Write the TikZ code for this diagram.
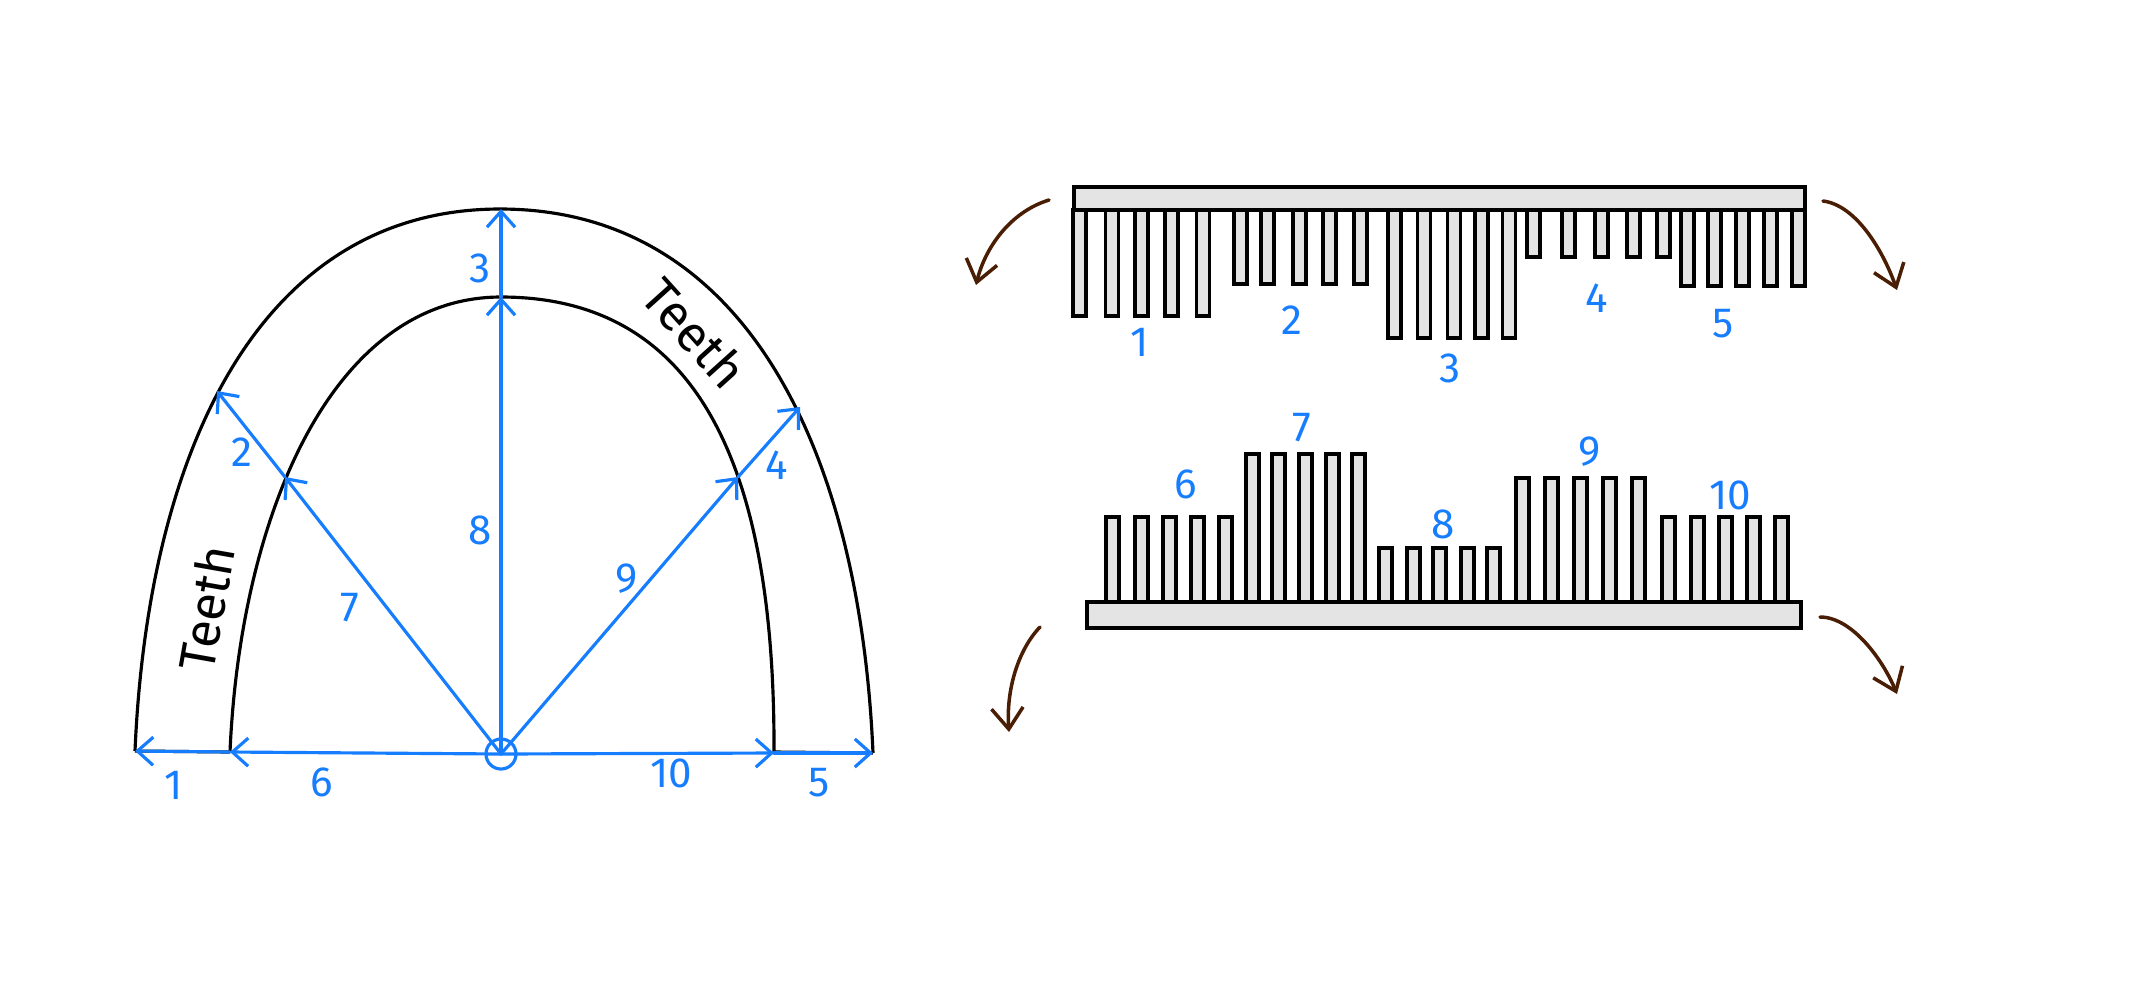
\documentclass[tikz,border=0pt]{standalone}
\usepackage{fontspec}
\setmainfont{Fira Sans}
\usetikzlibrary{arrows.meta}

\definecolor{penblue}{RGB}{22,125,255}
\definecolor{penbrown}{RGB}{74,30,4}
\definecolor{toothgray}{RGB}{228,228,228}

\begin{document}
\begin{tikzpicture}[x=0.01cm, y=-0.01cm,
        arch/.style={line width=0.9pt},
        ray/.style={penblue, line width=0.9pt, line cap=round, -{Straight Barb[length=4.5pt,width=8pt]}},
        num/.style={penblue, font=\large},
        word/.style={font=\Large},
        tooth/.style={draw, fill=toothgray, line width=0.9pt},
        turn/.style={penbrown, line width=1pt, line cap=round, -{Straight Barb[length=6pt,width=9pt]}}]
        \useasboundingbox (0,0) rectangle (2135,999);

        % arch
        \draw[arch] (135,751) .. controls (148,450) and (260,209) .. (500,209)
                .. controls (745,209) and (860,450) .. (873,753);
        \draw[arch] (230,752) .. controls (240,520) and (330,297) .. (501,297)
                .. controls (700,297) and (775,470) .. (774,752);
        \draw[arch] (230,752) -- (135,751);
        \draw[arch] (774,752) -- (873,753);

        \node[circle, draw=penblue, line width=0.9pt, minimum size=0.3cm, inner sep=0pt] (o) at (501,754) {};
        \coordinate (inL) at (230,752);
        \coordinate (outL) at (135,751);
        \coordinate (inR) at (774,753);
        \coordinate (outR) at (873,753);
        \coordinate (inT) at (501,297);
        \coordinate (outT) at (501,209);
        \coordinate (inA) at (285,477);
        \coordinate (outA) at (217,391);
        \coordinate (inB) at (738,477);
        \coordinate (outB) at (800,407);

        \draw[ray] (o.center) -- (inL);
        \draw[ray] (inL) -- (outL);
        \draw[ray] (o.center) -- (inR);
        \draw[ray] (inR) -- (outR);
        \draw[ray] (o.center) -- (inT);
        \draw[ray] (inT) -- (outT);
        \draw[ray] (o.center) -- (inA);
        \draw[ray] (inA) -- (outA);
        \draw[ray] (o.center) -- (inB);
        \draw[ray] (inB) -- (outB);

        \node[num] (n1) at (174,785) {1};
        \node[num] (n6) at (322,782) {6};
        \node[num] (n10) at (671,773) {10};
        \node[num] (n5) at (819,783) {5};
        \node[num] (n3) at (480,268) {3};
        \node[num] (n8) at (480,530) {8};
        \node[num] (n2) at (242,452) {2};
        \node[num] (n7) at (350,608) {7};
        \node[num] (n9) at (627,579) {9};
        \node[num] (n4) at (777,465) {4};

        \node[word, rotate=80] (teethL) at (206,608) {Teeth};
        \node[word, rotate=-48] (teethR) at (695,333) {Teeth};

        % upper comb
        \foreach \x in {1073,1105.5,1135,1165,1196.5} \draw[tooth] (\x,210) rectangle (\x+13,316);
        \foreach \x in {1234,1261,1293,1323,1354} \draw[tooth] (\x,210) rectangle (\x+13,284);
        \foreach \x in {1388,1417.5,1447.5,1475,1502.5} \draw[tooth] (\x,210) rectangle (\x+13,338);
        \foreach \x in {1527,1562,1595,1627,1657} \draw[tooth] (\x,210) rectangle (\x+13,257);
        \foreach \x in {1681,1708,1736,1764,1792} \draw[tooth] (\x,210) rectangle (\x+13,286);
        \draw[tooth] (1074,187) rectangle (1805,210);

        \node[num] (t1) at (1140,342) {1};
        \node[num] (t2) at (1292,320) {2};
        \node[num] (t3) at (1450,368) {3};
        \node[num] (t4) at (1597,298) {4};
        \node[num] (t5) at (1723,324) {5};

        % lower comb
        \foreach \x in {1106,1135,1163,1191,1219} \draw[tooth] (\x,517) rectangle (\x+13,602);
        \foreach \x in {1246,1272,1299,1326,1352} \draw[tooth] (\x,454) rectangle (\x+13,602);
        \foreach \x in {1379,1407,1433,1461,1487} \draw[tooth] (\x,548) rectangle (\x+13,602);
        \foreach \x in {1516,1545,1574,1603,1632} \draw[tooth] (\x,478) rectangle (\x+13,602);
        \foreach \x in {1662,1691,1719,1747,1775} \draw[tooth] (\x,517) rectangle (\x+13,602);
        \draw[tooth] (1087,602) rectangle (1801,628);

        \node[num] (b6) at (1186,484) {6};
        \node[num] (b7) at (1302,428) {7};
        \node[num] (b8) at (1443,524) {8};
        \node[num] (b9) at (1590,452) {9};
        \node[num] (b10) at (1730,495) {10};

        % bending arrows
        \coordinate (tl0) at (1049,200);
        \coordinate (tl1) at (976,285);
        \coordinate (tr0) at (1823,201);
        \coordinate (tr1) at (1897,290);
        \coordinate (bl0) at (1040,627);
        \coordinate (bl1) at (1009,732);
        \coordinate (br0) at (1820,617);
        \coordinate (br1) at (1897,694);
        \draw[turn] (tl0) .. controls (1010,212) and (985,248) .. (tl1);
        \draw[turn] (tr0) .. controls (1855,205) and (1882,248) .. (tr1);
        \draw[turn] (bl0) .. controls (1018,650) and (1006,690) .. (bl1);
        \draw[turn] (br0) .. controls (1852,617) and (1883,660) .. (br1);
\end{tikzpicture}
\end{document}
